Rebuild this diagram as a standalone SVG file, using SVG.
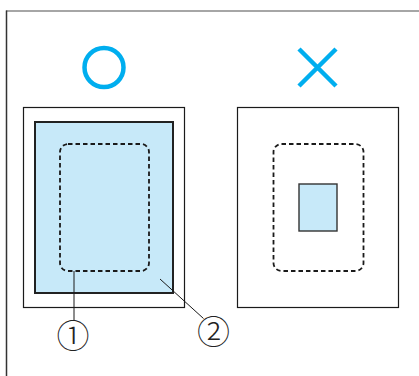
<svg xmlns="http://www.w3.org/2000/svg" width="419" height="376" viewBox="0 0 419 376">
<style>
.frame{fill:#fff;stroke:#1a1a1a;stroke-width:1.2}
.area{fill:#c7e9f9;stroke:#222;stroke-width:2}
.small{fill:#c7e9f9;stroke:#333;stroke-width:1.4}
.dash{fill:none;stroke:#1a1a1a;stroke-width:1.8;stroke-dasharray:4.5 3}
.lead{fill:none;stroke:#1a1a1a;stroke-width:1}
.sym{fill:none;stroke:#00aeef;stroke-width:4.5}
.num{font-family:"Noto Sans CJK JP","DejaVu Sans",sans-serif;font-size:33px;font-weight:300;fill:#222;text-anchor:middle}
</style>
<rect width="419" height="376" fill="#fff"/>
<g id="border">
<line x1="6" y1="11" x2="419" y2="11" stroke="#888" stroke-width="1.5"/>
<line x1="6.5" y1="10.5" x2="6.5" y2="376" stroke="#333" stroke-width="1.5"/>
</g>
<g id="good">
<circle class="sym" cx="104" cy="67.5" r="19.5"/>
<rect class="frame" x="23.5" y="107.5" width="161" height="200"/>
<rect class="area" x="35" y="122" width="138" height="171"/>
<rect class="dash" x="60" y="144" width="89" height="127" rx="8"/>
</g>
<g id="bad">
<path class="sym" d="M299,49 L336,86 M336,49 L299,86" stroke-width="4"/>
<rect class="frame" x="237.5" y="107.5" width="161" height="200"/>
<rect class="dash" x="273.5" y="144" width="90" height="127" rx="8"/>
<rect class="small" x="299" y="184" width="38" height="47"/>
</g>
<g id="connectors">
<line class="lead" x1="74" y1="271" x2="74" y2="320.5"/>
<line class="lead" x1="160" y1="279" x2="203.5" y2="318.5"/>
</g>
<g id="label1"><text class="num" x="73" y="348">①</text></g>
<g id="label2"><text class="num" x="213.5" y="344">②</text></g>
</svg>
